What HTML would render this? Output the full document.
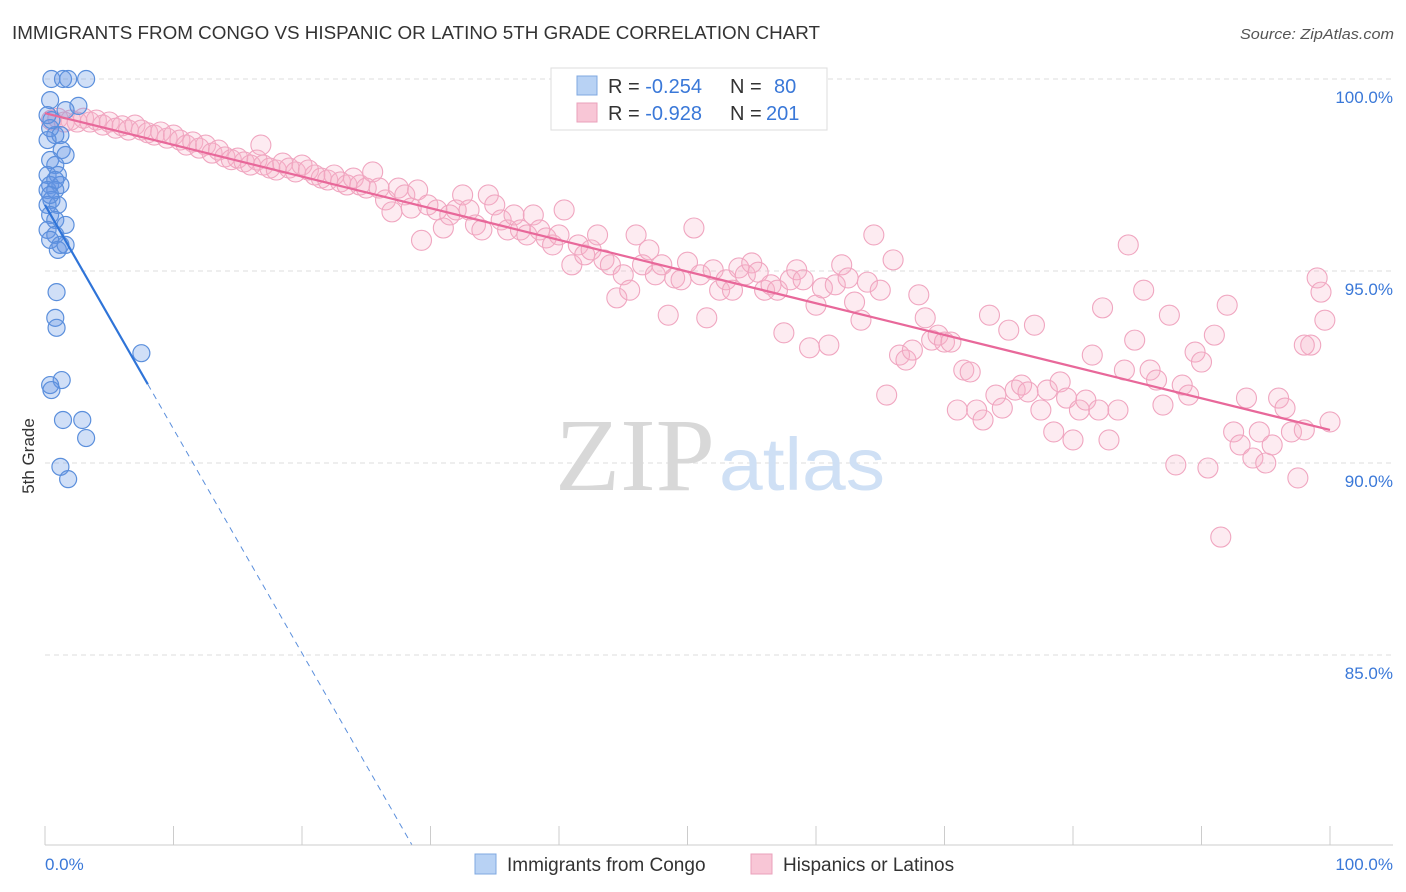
<!DOCTYPE html>
<html><head><meta charset="utf-8">
<style>
body{margin:0;background:#fff;font-family:"Liberation Sans",sans-serif;}
#wrap{position:relative;width:1406px;height:892px;overflow:hidden;}
svg{position:absolute;left:0;top:0;}
</style></head>
<body>
<div id="wrap">
<svg id="chart" width="1406" height="892">
  <text x="12" y="39" font-size="18" fill="#333" textLength="808" lengthAdjust="spacingAndGlyphs">IMMIGRANTS FROM CONGO VS HISPANIC OR LATINO 5TH GRADE CORRELATION CHART</text>
  <text x="1394" y="39" font-size="15" fill="#555" font-style="italic" text-anchor="end" textLength="154" lengthAdjust="spacingAndGlyphs">Source: ZipAtlas.com</text>
  <g id="grid"></g>
  <g>
    <text x="635" y="490" font-size="104" font-family="Liberation Serif,serif" fill="#d8d8d8" text-anchor="middle" textLength="160" lengthAdjust="spacingAndGlyphs">ZIP</text>
    <text x="802" y="490" font-size="74" fill="#cfe0f5" text-anchor="middle" textLength="166" lengthAdjust="spacingAndGlyphs">atlas</text>
  </g>
  <g id="pts"></g>
  <g id="trend"></g>
  <line x1="45" y1="845" x2="1393" y2="845" stroke="#ccc"/>
  <g id="ticks"></g>
  <text x="45" y="870" font-size="17" fill="#3a78d8">0.0%</text>
  <text x="1393" y="870" font-size="17" fill="#3a78d8" text-anchor="end">100.0%</text>
  <text transform="translate(34,456) rotate(-90)" font-size="17" fill="#333" text-anchor="middle">5th Grade</text>
  <g>
    <rect x="551" y="68" width="276" height="62" fill="#fff" stroke="#ddd"/>
    <rect x="577" y="76" width="20" height="19" fill="#b8d2f4" stroke="#7fa8e0"/>
    <rect x="577" y="103" width="20" height="19" fill="#f8c6d6" stroke="#eaa0bb"/>
    <text x="608" y="93" font-size="20" fill="#333">R = <tspan fill="#3a78d8">-0.254</tspan><tspan x="730">N = </tspan><tspan x="774" fill="#3a78d8">80</tspan></text>
    <text x="608" y="120" font-size="20" fill="#333">R = <tspan fill="#3a78d8">-0.928</tspan><tspan x="730">N = </tspan><tspan x="766" fill="#3a78d8">201</tspan></text>
  </g>
  <g>
    <rect x="475" y="854" width="21" height="20" fill="#b8d2f4" stroke="#7fa8e0"/>
    <text x="507" y="871" font-size="19" fill="#333">Immigrants from Congo</text>
    <rect x="751" y="854" width="21" height="20" fill="#f8c6d6" stroke="#eaa0bb"/>
    <text x="783" y="871" font-size="19" fill="#333">Hispanics or Latinos</text>
  </g>
</svg>
</div>
<script>
const yTicks=[100,95,90,85];
const yTickLabels=["100.0%","95.0%","90.0%","85.0%"];
const congoX=[0.5,1.4,1.8,3.2,2.6,1.6,0.4,0.8,1.2,0.2,1.3,1.6,0.4,0.8,0.2,1.0,0.4,1.2,0.2,0.8,0.5,0.2,1.0,0.4,0.8,1.6,0.2,0.8,0.4,1.2,1.0,1.6,0.9,0.8,0.9,1.3,0.4,0.5,1.4,2.9,3.2,1.2,1.8,7.5,0.4,0.2,0.5,0.8,0.4];
const congoY=[100,100,100,100,99.3,99.19,98.72,98.54,98.54,98.41,98.15,98.02,97.89,97.76,97.5,97.5,97.24,97.24,97.11,97.11,96.85,96.72,96.72,96.46,96.33,96.2,96.07,95.94,95.81,95.68,95.55,95.68,94.45,93.78,93.52,92.16,92.03,91.9,91.12,91.12,90.65,89.9,89.58,92.86,99.45,99.06,98.93,97.37,96.98];
const hispX=[0.5,1,1.5,2,2.5,3,3.5,4,4.5,5,5.5,6,6.5,7,7.5,8,8.5,9,9.5,10,10.5,11,11.5,12,12.5,13,13.5,14,14.5,15,15.5,16,16.5,16.8,17,17.5,18,18.5,19,19.5,20,20.5,21,21.5,22,22.5,23,23.5,24,24.5,25,25.5,26,26.5,27,27.5,28,28.5,29,29.3,29.8,30.5,31,31.5,32,32.5,33,33.5,34,34.5,35,35.5,36,36.5,37,37.5,38,38.5,39,39.5,40,40.4,41,41.5,42,42.5,43,43.5,44,44.5,45,45.5,46,46.5,47,47.5,48,48.5,49,49.5,50,50.5,51,51.5,52,52.5,53,53.5,54,54.5,55,55.5,56,56.5,57,57.5,58,58.5,59,59.5,60,60.5,61,61.5,62,62.5,63,63.5,64,64.5,65,65.5,66,66.5,67,67.5,68,68.5,69,69.5,70,70.5,71,71.5,72,72.5,73,73.5,74,74.5,75,75.5,76,76.5,77,77.5,78,78.5,79,79.5,80,80.5,81,81.5,82,82.3,82.8,83.5,84,84.3,84.8,85.5,86,86.5,87,87.5,88,88.5,89,89.5,90,90.5,91,91.5,92,92.5,93,93.5,94,94.5,95,95.5,96,96.5,97,97.5,98,98.5,99,99.3,99.6,100,98];
const hispY=[98.93,98.98,98.88,98.93,98.88,98.98,98.88,98.93,98.8,98.88,98.72,98.78,98.67,98.8,98.67,98.6,98.54,98.62,98.46,98.54,98.41,98.28,98.36,98.2,98.28,98.07,98.15,97.97,97.9,97.94,97.84,97.76,97.89,98.28,97.76,97.68,97.63,97.81,97.68,97.58,97.76,97.63,97.5,97.42,97.37,97.5,97.32,97.24,97.42,97.24,97.16,97.58,97.16,96.85,96.54,97.16,96.98,96.64,97.11,95.8,96.72,96.59,96.12,96.46,96.59,96.98,96.59,96.2,96.07,96.98,96.72,96.33,96.07,96.46,96.07,95.94,96.46,96.07,95.86,95.68,95.94,96.59,95.16,95.68,95.42,95.55,95.94,95.29,95.16,94.3,94.9,94.5,95.94,95.16,95.55,94.9,95.16,93.85,94.82,94.77,95.23,96.12,94.9,93.78,95.03,94.5,94.77,94.5,95.08,94.9,95.21,94.97,94.5,94.64,94.5,93.39,94.77,95.03,94.77,93.0,94.11,94.56,93.07,94.64,95.16,94.82,94.19,93.72,94.71,95.94,94.5,91.77,95.29,92.81,92.68,92.94,94.38,93.78,93.2,93.33,93.15,93.15,91.38,92.42,92.37,91.38,91.12,93.85,91.77,91.43,93.46,91.9,92.03,91.85,93.59,91.38,91.9,90.81,92.11,91.69,90.6,91.38,91.64,92.81,91.38,94.04,90.6,91.38,92.42,95.68,93.2,94.5,92.42,92.16,91.51,93.85,89.95,92.03,91.77,92.89,92.63,89.87,93.33,88.07,94.11,90.81,90.47,91.69,90.13,90.81,90.0,90.47,91.69,91.43,90.81,89.61,90.86,93.07,94.82,94.45,93.72,91.07,93.07];
const congoTrend=[96.72,-0.5836];
const hispTrend=[99.11,-0.0825];
const NS='http://www.w3.org/2000/svg';
const X=v=>45+v*12.85;
const Y=v=>79+(100-v)*38.4;
function mk(tag,attrs,parent){const e=document.createElementNS(NS,tag);for(const k in attrs)e.setAttribute(k,attrs[k]);parent.appendChild(e);return e;}
const grid=document.getElementById('grid');
yTicks.forEach((t,i)=>{
  const l=mk('line',{x1:45,x2:1393,y1:Y(t),y2:Y(t),stroke:'#ddd','stroke-dasharray':'5,4'},grid);
  
  
  const tx=mk('text',{x:1393,y:Y(t)+24,'font-size':17,fill:'#3a78d8','text-anchor':'end'},grid);
  tx.textContent=yTickLabels[i];
  
  
});
const ticks=document.getElementById('ticks');
for(let i=0;i<=10;i++){mk('line',{x1:X(i*10),x2:X(i*10),y1:826,y2:845,stroke:'#ccc'},ticks);}
const pts=document.getElementById('pts');
hispX.forEach((x,i)=>{
  const c=mk('circle',{cx:X(x),cy:Y(hispY[i]),r:10,fill:'rgba(248,175,200,0.25)',stroke:'#f0a6c0','stroke-width':1.1},pts);
  
  
});
congoX.forEach((x,i)=>{
  const c=mk('circle',{cx:X(x),cy:Y(congoY[i]),r:8.5,fill:'rgba(100,150,230,0.3)',stroke:'#5b8fdc','stroke-width':1.2},pts);
  
  
});
const tr=document.getElementById('trend');
const ht=mk('line',{x1:X(0),y1:Y(hispTrend[0]),x2:X(100),y2:Y(hispTrend[0]+hispTrend[1]*100),stroke:'#e8689a','stroke-width':2.2},tr);


const xs=8, xe=(congoTrend[0]-80.05)/-congoTrend[1];
const ct=mk('line',{x1:X(0),y1:Y(congoTrend[0]),x2:X(xs),y2:Y(congoTrend[0]+congoTrend[1]*xs),stroke:'#2f74d8','stroke-width':2.2},tr);


const cd=mk('line',{x1:X(xs),y1:Y(congoTrend[0]+congoTrend[1]*xs),x2:X(xe),y2:Y(80.05),stroke:'#5b8fdc','stroke-width':1,'stroke-dasharray':'6,5'},tr);


</script>
</body></html>
